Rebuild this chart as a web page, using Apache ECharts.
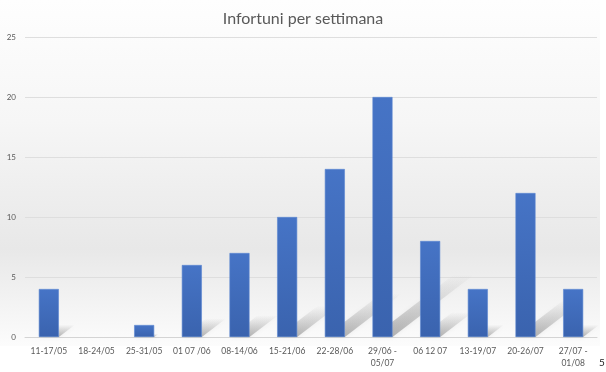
<!DOCTYPE html>
<html>
<head>
<meta charset="utf-8">
<script src="https://cdn.jsdelivr.net/npm/echarts@6/dist/echarts.min.js"></script>
<style>
html,body{margin:0;padding:0;background:#fff;}
#c{width:606px;height:372px;}
</style>
</head>
<body>
<div id="c"></div>
<script>
var titleText = 'Infortuni per settimana';
var categories = ['11-17/05','18-24/05','25-31/05','01 07 /06','08-14/06','15-21/06','22-28/06','29/06 -\n05/07','06 12 07','13-19/07','20-26/07','27/07 -\n01/08'];
var values = [4, 0, 1, 6, 7, 10, 14, 20, 8, 4, 12, 4];
var yTicks = [0, 5, 10, 15, 20, 25];

var chart = echarts.init(document.getElementById('c'), null, {renderer:'canvas'});
var FONT = 'Lato';
var option = {
  animation: false,
  backgroundColor: 'transparent',
  graphic: [
    {type:'rect', z:-10, silent:true, shape:{x:0,y:0,width:600,height:346},
     style:{fill:new echarts.graphic.LinearGradient(0,0,0,1,[
       {offset:0,color:'#fefefe'},{offset:0.35,color:'#f6f6f6'},
       {offset:0.72,color:'#e8e8e8'},{offset:1,color:'#fcfcfc'}])}},
    {type:'text', left:599, top:358, style:{text:'5', fill:'#222', font:'10px '+FONT}}
  ],
  title: {
    text: titleText, left: 'center', top: 6,
    textStyle: {fontFamily: FONT, fontWeight: 'normal', fontSize: 16, color: '#595959'}
  },
  grid: {left: 25, right: 9, top: 37, bottom: 35, containLabel: false},
  xAxis: {
    type: 'category', data: categories,
    axisLine: {show: true, lineStyle: {color: '#d4d4d4'}},
    axisTick: {show: false},
    axisLabel: {interval: 0, margin: 8, fontFamily: FONT, fontSize: 8.5, color: '#595959', lineHeight: 12}
  },
  yAxis: {
    type: 'value', min: 0, max: 25, interval: 5,
    axisLine: {show: false}, axisTick: {show: false},
    splitLine: {lineStyle: {color: '#dedede'}},
    axisLabel: {margin: 9, fontFamily: FONT, fontSize: 8, color: '#595959',
      formatter: function(v){ return yTicks.indexOf(v) >= 0 ? String(v) : ''; }}
  },
  series: [
    {
      type: 'custom', z: 1, silent: true,
      data: values.map(function(v,i){ return [i, v]; }),
      renderItem: function(params, api){
        var i = api.value(0), v = api.value(1);
        if (!v) return null;
        var base = api.coord([i, 0]);
        var top = api.coord([i, v]);
        var h = base[1] - top[1];
        var bw = api.size([1, 0])[0] * 0.42;
        var x0 = base[0] - bw/2, x1 = base[0] + bw/2, y0 = base[1];
        var dx = h * 0.34, dy = h * 0.26;
        return {
          type: 'polygon',
          shape: {points: [[x0, y0], [x1, y0], [x1 + dx, y0 - dy], [x0 + dx, y0 - dy]]},
          style: {fill: new echarts.graphic.LinearGradient(0,1,0,0,[
            {offset:0,color:'rgba(90,90,90,0.42)'},{offset:1,color:'rgba(120,120,120,0)'}]),
            shadowBlur: 4, shadowColor: 'rgba(120,120,120,0.3)'}
        };
      }
    },
    {
      type: 'bar', z: 3, barWidth: '42%',
      data: values.map(function(v){
        return v ? v : {value: v, itemStyle: {borderWidth: 0, opacity: 0}};
      }),
      itemStyle: {
        color: new echarts.graphic.LinearGradient(0,0,0,1,[
          {offset:0,color:'#4674c6'},{offset:1,color:'#3a63ae'}]),
        borderColor: '#5b86d2', borderWidth: 0.6
      }
    }
  ]
};
chart.setOption(option);
</script>
</body>
</html>
